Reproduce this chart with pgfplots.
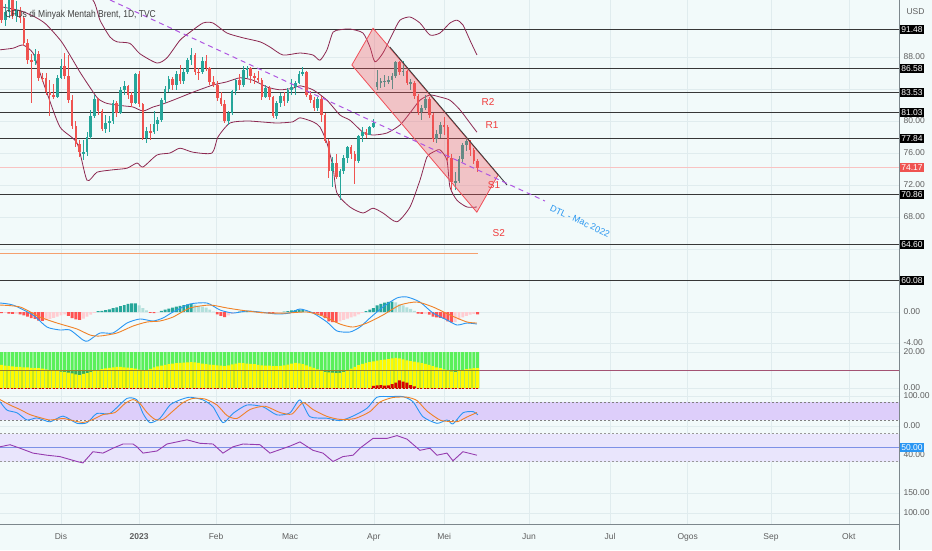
\documentclass[border=0pt]{standalone}
\usepackage{fontspec}
\setmainfont{Liberation Sans}
\usepackage{pgfplots}
\usepackage{pgfplotstable}
\pgfplotsset{compat=1.18}

\definecolor{bg}{RGB}{242,250,250}
\definecolor{gridc}{RGB}{224,236,238}
\definecolor{cup}{RGB}{38,166,154}
\definecolor{cdn}{RGB}{239,83,80}
\definecolor{bb}{RGB}{140,40,80}
\definecolor{lvl}{RGB}{55,55,55}
\definecolor{dtl}{RGB}{175,85,225}
\definecolor{dtlt}{RGB}{40,150,240}
\definecolor{chan}{RGB}{240,80,90}
\definecolor{lab}{RGB}{95,95,95}
\definecolor{macdb}{RGB}{41,150,243}
\definecolor{macdo}{RGB}{240,130,40}
\definecolor{hT}{RGB}{38,166,154}
\definecolor{hL}{RGB}{178,223,219}
\definecolor{hR}{RGB}{255,82,82}
\definecolor{hP}{RGB}{255,205,210}
\definecolor{grn}{RGB}{90,240,90}
\definecolor{dgrn}{RGB}{60,175,80}
\definecolor{yel}{RGB}{255,250,0}
\definecolor{olive}{RGB}{150,125,40}
\definecolor{stfill}{RGB}{221,206,250}
\definecolor{rsifill}{RGB}{233,229,252}
\definecolor{rsil}{RGB}{150,60,175}
\definecolor{midl}{RGB}{125,145,230}
\definecolor{axc}{RGB}{125,135,140}
\definecolor{sr}{RGB}{240,60,60}
\definecolor{orl}{RGB}{245,160,110}

\newcommand{\tvf}{\fontsize{8.5}{10}\selectfont}

\pgfplotsset{
  tvpane/.style={
    scale only axis, width=899pt, anchor=south west,
    xmin=-16.4, xmax=225.3,
    axis line style={draw=none},
    major tick length=0pt, tick style={draw=none},
    yticklabel pos=right,
    xtick={0,21,41.7,61.6,84.1,103,125.8,147.6,168.5,190.9,211.8},
    xticklabels={},
    xmajorgrids, ymajorgrids,
    grid style={gridc, line width=0.5pt},
    yticklabel style={font=\tvf, text=lab, anchor=west, xshift=1pt},
  },
  wick/.style={only marks, mark size=0pt, mark options={draw=none, fill=none},
    error bars/.cd, y dir=both, y explicit, error mark=none,
    error bar style={draw=#1, line width=0.8pt}},
  body/.style={only marks, mark size=0pt, mark options={draw=none, fill=none},
    error bars/.cd, y dir=both, y explicit, error mark=none,
    error bar style={draw=#1, line width=2.6pt}},
}

% i o h l c up hm hc yl rd   (up: 1 rising candle, 0 falling; hc: 1 teal, 2 light teal, 3 red, 4 pink)
\pgfplotstableread{
i o h l c up hm hc yl rd
-16 95.36 96.00 92.30 92.65 0 -0.15 3 12.8 0
-15 92.65 94.60 91.90 93.67 1 -0.10 4 12.5 0
-14 93.67 96.70 92.90 95.99 1 -0.20 3 12.3 0
-13 95.99 96.30 92.70 93.14 0 -0.25 3 12.0 0
-12 93.14 95.00 92.40 93.86 1 -0.20 4 11.8 0
-11 93.86 94.30 92.30 92.86 0 -0.30 3 11.7 0
-10 92.86 93.10 89.40 89.78 0 -0.45 3 11.5 0
-9 89.78 90.20 87.10 87.62 0 -0.60 3 11.4 0
-8 87.62 88.40 82.30 87.45 0 -0.80 3 11.2 0
-7 87.45 89.00 87.00 88.36 1 -0.90 3 11.1 0
-6 88.36 88.80 85.00 85.41 0 -1.10 3 11.0 0
-5 85.41 86.00 84.90 85.34 0 -1.15 3 10.8 0
-4 85.34 86.00 83.20 83.63 0 -1.05 4 10.4 0
-3 83.63 85.10 80.60 83.19 0 -0.90 4 10.0 0
-2 83.19 84.60 82.70 83.03 0 -0.75 4 9.7 0
-1 83.03 85.80 82.90 85.43 1 -0.60 4 9.4 0
0 85.43 87.80 85.20 86.88 1 -0.45 4 9.1 0
1 86.88 88.50 85.30 85.57 0 -0.30 4 8.9 0
2 85.57 88.30 82.20 82.68 0 -0.50 3 8.6 0
3 82.68 83.20 79.00 79.35 0 -0.80 3 8.1 0
4 79.35 80.00 76.80 77.17 0 -0.95 3 7.6 0
5 77.17 77.60 75.50 76.15 0 -1.00 3 7.2 0
6 75.90 77.60 75.10 76.10 1 -0.85 4 7.8 0
7 76.10 78.60 75.60 77.99 1 -0.60 4 8.3 0
8 77.99 81.40 77.80 80.68 1 -0.35 4 9.0 0
9 80.68 83.30 80.40 82.70 1 -0.10 4 9.6 0
10 82.70 82.90 80.80 81.21 0 0.10 1 10.0 0
11 81.21 81.50 78.80 79.04 0 0.15 1 10.5 0
12 79.04 80.80 78.50 79.80 1 0.25 1 10.9 0
13 79.80 80.60 78.60 79.99 1 0.35 1 11.2 0
14 79.99 82.60 79.60 82.20 1 0.50 1 11.5 0
15 82.20 82.50 80.50 80.98 0 0.60 1 11.7 0
16 80.98 84.20 80.90 83.92 1 0.75 1 11.7 0
17 83.92 85.00 83.30 84.33 1 0.90 1 11.5 0
18 84.33 84.50 82.70 83.26 0 1.05 1 11.3 0
19 83.26 83.60 81.70 82.26 0 1.10 1 11.1 0
20 82.26 86.00 82.10 85.91 1 1.10 1 10.8 0
21 85.91 86.30 81.80 82.10 0 0.85 2 10.2 0
22 82.10 82.30 77.60 77.84 0 0.50 2 9.4 0
23 77.84 79.30 77.20 78.69 1 0.20 2 9.8 0
24 78.69 79.60 77.60 78.57 0 -0.10 3 10.6 0
25 78.57 81.30 78.40 79.65 1 -0.15 3 11.4 0
26 79.65 80.50 78.80 80.10 1 -0.05 4 12.0 0
27 80.10 82.90 79.90 82.67 1 0.15 1 12.4 0
28 82.67 84.40 82.30 84.03 1 0.30 1 12.8 0
29 84.03 85.60 83.60 85.28 1 0.45 1 13.2 0
30 85.28 85.50 83.90 84.46 0 0.55 1 13.5 0
31 84.46 86.30 83.90 85.92 1 0.70 1 13.8 0
32 85.92 87.00 84.60 84.98 0 0.80 1 13.9 0
33 84.98 86.60 84.60 86.16 1 0.90 1 14.1 0
34 86.16 87.90 85.90 87.63 1 1.00 1 14.3 0
35 87.63 89.10 87.00 88.19 1 1.05 1 14.4 0
36 88.19 88.50 85.80 86.13 0 0.95 2 14.2 0
37 86.13 86.60 85.10 86.12 0 0.80 2 13.9 0
38 86.12 88.00 85.90 87.47 1 0.70 2 13.6 0
39 87.47 88.30 86.30 86.66 0 0.55 2 13.3 0
40 86.66 86.80 84.50 84.90 0 0.30 2 13.0 0
41 84.90 85.60 84.20 84.49 0 0.05 2 12.8 0
42 84.49 85.00 82.50 82.84 0 -0.30 3 12.6 0
43 82.84 83.60 81.90 82.17 0 -0.50 3 12.4 0
44 82.17 82.60 79.80 79.94 0 -0.65 3 12.2 0
45 79.94 81.30 79.50 80.99 1 -0.45 4 12.6 0
46 80.99 83.90 80.80 83.69 1 -0.25 4 13.1 0
47 83.69 85.30 83.20 85.09 1 -0.10 4 13.6 0
48 85.09 85.90 83.90 84.50 0 0.05 1 13.9 0
49 84.50 86.90 84.30 86.39 1 0.10 1 13.8 0
50 86.39 86.90 85.40 86.61 1 0.15 1 13.6 0
51 86.61 86.70 84.80 85.58 0 0.10 2 13.4 0
52 85.58 86.00 84.60 85.38 0 0.05 2 13.2 0
53 85.38 86.30 84.90 85.14 0 -0.05 3 12.8 0
54 85.14 85.40 82.60 83.00 0 -0.15 3 12.6 0
55 83.00 84.50 82.90 84.07 1 -0.10 4 12.5 0
56 84.07 84.40 82.60 83.05 0 -0.15 3 12.4 0
57 83.05 83.10 80.40 80.60 0 -0.20 3 12.2 0
58 80.60 82.50 80.30 82.21 1 -0.10 4 12.2 0
59 82.21 83.50 81.80 83.16 1 -0.05 4 12.3 0
60 83.16 83.60 81.90 82.45 0 0.05 1 12.6 0
61 82.45 84.10 82.20 83.89 1 0.10 1 13.0 0
62 83.89 85.20 83.30 84.31 1 0.20 1 13.5 0
63 84.31 85.00 83.30 84.75 1 0.25 1 13.9 0
64 84.75 86.30 84.60 85.83 1 0.30 1 13.7 0
65 85.83 86.70 85.60 86.18 1 0.30 1 13.2 0
66 86.18 86.30 83.00 83.29 0 0.15 2 12.6 0
67 83.29 83.70 82.20 82.66 0 0.05 2 11.9 0
68 82.66 83.00 81.20 81.59 0 -0.10 3 11.2 0
69 81.59 83.00 81.30 82.78 1 -0.20 3 10.4 0
70 82.78 83.10 79.90 80.77 0 -0.45 3 9.6 0
71 80.77 81.00 77.20 77.45 0 -0.80 3 9.0 0
72 77.45 77.70 72.90 73.69 0 -1.20 3 8.7 0
73 73.69 75.50 71.70 74.70 1 -1.30 3 8.5 0
74 74.70 75.90 72.70 72.97 0 -1.35 3 8.3 0
75 72.97 74.00 70.10 73.79 1 -1.20 4 8.4 0
76 73.79 75.70 73.40 75.32 1 -1.00 4 9.0 0
77 75.32 76.90 74.80 76.69 1 -0.85 4 9.8 0
78 76.69 77.00 75.20 75.91 0 -0.70 4 10.8 0
79 75.91 76.20 72.10 74.99 0 -0.55 4 11.8 0
80 74.99 78.30 74.80 78.12 1 -0.30 4 12.7 0
81 78.12 79.20 77.40 78.65 1 -0.10 4 13.4 0
82 78.65 79.00 77.90 78.28 0 0.10 1 14.0 0
83 78.28 79.40 78.20 79.27 1 0.30 1 14.4 0
84 79.27 80.30 79.10 79.77 1 0.50 1 14.8 1.2
85 84.20 86.40 83.90 84.93 1 0.85 1 15.2 1.4
86 84.93 85.40 84.10 84.94 1 1.05 1 15.5 1.6
87 84.94 85.80 84.30 84.99 1 1.20 1 15.8 1.3
88 84.99 85.60 84.60 85.12 1 1.30 1 16.1 1.5
89 85.12 86.00 84.00 85.61 1 1.35 1 16.4 2.2
90 85.61 87.50 85.40 87.33 1 1.25 2 16.7 3.0
91 87.33 87.50 85.80 86.09 0 1.00 2 16.4 4.3
92 86.09 87.50 85.60 86.31 1 0.85 2 15.9 3.6
93 86.31 86.40 84.50 84.76 0 0.60 2 15.3 3.0
94 84.76 85.30 83.90 84.77 1 0.40 2 14.9 1.6
95 84.77 85.00 82.70 83.12 0 0.15 2 14.6 0.9
96 83.12 83.40 80.80 81.10 0 -0.20 3 14.2 0
97 81.10 82.00 80.10 81.66 1 -0.25 3 13.8 0
98 81.66 83.20 81.40 82.73 1 -0.20 4 13.4 0
99 82.73 83.00 80.40 80.77 0 -0.35 3 12.8 0
100 80.77 81.00 77.40 77.69 0 -0.60 3 12.1 0
101 77.69 78.90 77.30 78.37 1 -0.70 3 11.5 0
102 78.37 79.90 77.90 79.54 1 -0.75 3 11.0 0
103 79.54 80.50 78.30 79.31 0 -0.90 3 10.3 0
104 79.31 79.50 75.00 75.32 0 -1.20 3 9.8 0
105 75.32 75.90 71.40 72.33 0 -1.35 3 9.2 0
106 72.33 73.60 71.40 72.50 1 -1.30 4 8.9 0
107 72.50 75.60 72.30 75.30 1 -1.00 4 9.4 0
108 75.30 77.20 74.90 77.01 1 -0.70 4 10.0 0
109 77.01 77.80 76.20 77.44 1 -0.50 4 10.5 0
110 77.44 77.60 75.60 76.41 0 -0.35 4 10.8 0
111 76.41 76.60 74.60 74.98 0 -0.25 4 11.0 0
112 74.98 75.30 73.60 74.17 0 -0.30 3 11.1 0
}\data

\pgfplotstableread{
px v
0 100.0
40 99.0
70 97.5
93 95.1
100 92.6
110 90.5
117 89.9
130 89.7
140 88.4
157 87.25
167 87.9
180 90.1
190 91.1
203 92.25
213 92.25
227 91.0
243 90.4
260 89.9
270 89.25
283 88.25
300 88.5
313 88.25
320 87.6
327 88.9
333 91.1
340 91.4
350 91.5
363 91.0
370 89.25
375 87.4
383 88.5
393 91.0
400 92.6
410 93.0
420 92.25
430 90.75
440 91.0
450 92.25
457 92.6
463 92.0
470 90.1
477 88.25
}\bbU

\pgfplotstableread{
px v
0 94.3
20 93.8
35 93.0
46 92.1
61 90.0
72 87.8
80 86.1
90 84.2
98 82.8
107 82.2
123 81.9
133 81.75
143 81.25
153 81.75
160 82.0
173 82.6
193 83.6
213 84.5
227 84.9
240 85.4
253 85.1
267 84.25
280 83.9
293 84.1
300 84.4
313 83.9
327 82.6
340 80.75
350 80.1
363 78.6
373 78.25
387 78.5
400 79.5
410 81.0
420 82.6
430 83.25
440 83.0
450 82.6
460 81.4
470 79.75
477 78.6
}\bbM

\pgfplotstableread{
px v
0 88.9
13 89.1
23 89.5
33 88.5
40 86.0
47 83.5
60 79.25
77 77.25
87 72.6
97 73.6
113 73.9
127 74.1
137 74.75
143 74.25
157 75.75
170 76.0
180 76.6
193 76.1
212 76.0
218 78.0
230 79.75
247 80.0
260 79.9
277 79.75
293 79.9
300 80.4
313 79.9
320 79.25
327 77.25
333 74.25
337 71.0
350 69.25
363 68.5
373 69.1
383 68.5
397 67.4
410 69.25
420 72.6
427 75.5
433 76.1
440 76.4
447 75.1
450 71.75
457 70.1
467 69.25
477 69.25
}\bbL

\pgfplotstableread{
px v
0 1.16
13 0.9
33 -0.39
47 -1.94
60 -2.32
70 -2.32
83 -3.61
88 -3.74
100 -2.71
113 -2.71
127 -1.42
140 -0.9
153 -1.16
163 -0.77
173 0.0
190 1.03
207 1.16
220 0.26
233 -0.13
247 0.13
260 0.0
277 -0.26
290 -0.13
300 0.39
313 -0.13
327 -1.29
337 -2.45
350 -2.58
360 -1.94
370 -0.77
383 0.65
397 1.81
407 1.94
420 1.29
433 -0.13
447 -1.03
457 -1.68
467 -1.42
477 -1.55
}\macdB

\pgfplotstableread{
px v
0 0.9
20 0.65
40 -0.65
57 -1.42
77 -2.19
90 -2.97
100 -3.1
117 -2.71
133 -1.81
147 -1.29
160 -1.16
173 -0.65
190 0.52
210 0.9
227 0.52
247 0.13
267 -0.13
287 -0.13
307 0.0
323 -0.52
340 -1.55
353 -1.94
367 -1.42
383 -0.39
400 0.9
417 1.29
433 0.65
450 -0.39
467 -1.29
477 -1.42
}\macdO

\pgfplotstableread{
px v
0 81
7 53
17 44
27 20
37 27
50 14
63 33
77 9
87 11
97 42
110 42
127 92
137 87
143 42
150 11
160 26
170 70
180 87
190 96
203 87
213 64
223 11
233 42
247 70
263 64
277 37
290 44
300 87
310 31
327 26
340 18
353 33
367 59
377 96
390 98
403 98
413 81
423 31
437 9
447 20
453 7
463 44
473 48
478 37
}\stK

\pgfplotstableread{
px v
0 88
10 70
20 55
30 38
40 28
50 20
63 25
73 18
83 12
93 22
103 38
115 45
125 75
133 88
140 75
147 45
155 22
163 22
173 50
183 78
193 92
205 90
217 70
227 35
237 25
250 55
265 66
280 45
292 40
303 78
313 55
327 32
340 22
355 25
370 48
380 80
393 95
407 96
417 85
427 50
440 20
450 15
458 15
467 30
477 45
}\stD

\pgfplotstableread{
px v
0 51
10 54
20 49
33 42
47 39
60 37
77 30
83 28
93 44
103 42
113 49
123 55
133 55
137 51
143 42
157 45
167 55
177 58
187 61
200 56
213 55
223 42
233 51
243 55
260 54
270 42
280 47
290 52
300 58
313 46
323 42
333 30
343 37
353 39
360 49
373 63
387 63
397 67
407 62
420 46
430 49
437 39
447 42
453 31
463 44
477 39
}\rsi

\begin{document}
\begin{tikzpicture}
\fill[bg] (0pt,0pt) rectangle (932pt,-550pt);

% ---------------- main price pane ----------------
\begin{axis}[tvpane, at={(0pt,-291pt)}, height=291pt, ymin=58.75, ymax=95.125,
  ytick={68,72,76,80,88},
  yticklabels={68.00,72.00,76.00,80.00,88.00},
  extra y ticks={91.48,86.58,83.53,81.03,77.84,70.86,64.60,60.08},
  extra y tick labels={91.48,86.58,83.53,81.03,77.84,70.86,64.60,60.08},
  extra y tick style={grid=none, yticklabel style={fill=black, text=white, inner sep=1.6pt, xshift=-0.5pt}},
]
\addplot[gridc, line width=0.5pt] coordinates {(-16.4,84) (225.3,84)};
\addplot[gridc, line width=0.5pt] coordinates {(-16.4,64) (225.3,64)};
\addplot[lvl, line width=1pt] coordinates {(-16.4,91.48) (225.3,91.48)};
\addplot[lvl, line width=1pt] coordinates {(-16.4,86.58) (225.3,86.58)};
\addplot[lvl, line width=1pt] coordinates {(-16.4,83.53) (225.3,83.53)};
\addplot[lvl, line width=1pt] coordinates {(-16.4,81.03) (225.3,81.03)};
\addplot[lvl, line width=1pt] coordinates {(-16.4,77.84) (225.3,77.84)};
\addplot[lvl, line width=1pt] coordinates {(-16.4,70.86) (225.3,70.86)};
\addplot[lvl, line width=1pt] coordinates {(-16.4,64.60) (225.3,64.60)};
\addplot[lvl, line width=1pt] coordinates {(-16.4,60.08) (225.3,60.08)};
\addplot[cdn!35, line width=0.6pt] coordinates {(-16.4,74.17) (225.3,74.17)};
\addplot[orl, line width=1pt] coordinates {(-16.4,63.4) (112.1,63.4)};
\addplot[bb, line width=0.8pt, smooth, tension=0.4] table[x expr={(\thisrow{px}-61)/3.72}, y=v] {\bbU};
\addplot[bb, line width=0.8pt, smooth, tension=0.4] table[x expr={(\thisrow{px}-61)/3.72}, y=v] {\bbM};
\addplot[bb, line width=0.8pt, smooth, tension=0.4] table[x expr={(\thisrow{px}-61)/3.72}, y=v] {\bbL};
% candles: wicks
\addplot[restrict expr to domain={\thisrow{up}}{0.5:1.5}, wick=cup]
  table[x=i, y expr={(\thisrow{h}+\thisrow{l})/2}, y error expr={(\thisrow{h}-\thisrow{l})/2}] {\data};
\addplot[restrict expr to domain={\thisrow{up}}{-0.5:0.5}, wick=cdn]
  table[x=i, y expr={(\thisrow{h}+\thisrow{l})/2}, y error expr={(\thisrow{h}-\thisrow{l})/2}] {\data};
% candles: bodies
\addplot[restrict expr to domain={\thisrow{up}}{0.5:1.5}, body=cup]
  table[x=i, y expr={(\thisrow{o}+\thisrow{c})/2}, y error expr={max(abs(\thisrow{o}-\thisrow{c})/2,0.06)}] {\data};
\addplot[restrict expr to domain={\thisrow{up}}{-0.5:0.5}, body=cdn]
  table[x=i, y expr={(\thisrow{o}+\thisrow{c})/2}, y error expr={max(abs(\thisrow{o}-\thisrow{c})/2,0.06)}] {\data};
% channel
\addplot[draw=chan, line width=0.8pt, fill=chan, fill opacity=0.32] coordinates {(83.9,91.6) (117.5,73.25) (111.8,68.6) (78.2,87.0)} -- cycle;
\addplot[black!75, line width=0.9pt] coordinates {(88.4,89.25) (119.9,72.0)};
% DTL
\addplot[dtl, line width=1pt, dash pattern=on 5pt off 4pt] coordinates {(13.2,95.125) (130.1,70.0)};
\node[rotate=-24.8, text=dtlt, font=\fontsize{9}{10}\selectfont] at (axis cs:139.5,67.5) {DTL - Mac 2022};
\node[text=sr, font=\fontsize{10}{11}\selectfont] at (axis cs:114.8,82.4) {R2};
\node[text=sr, font=\fontsize{10}{11}\selectfont] at (axis cs:115.9,79.5) {R1};
\node[text=sr, font=\fontsize{10}{11}\selectfont] at (axis cs:116.4,72.0) {S1};
\node[text=sr, font=\fontsize{10}{11}\selectfont] at (axis cs:117.7,66.0) {S2};
\coordinate (pl) at (axis cs:225.3,74.17);
\end{axis}

% ---------------- MACD pane ----------------
\begin{axis}[tvpane, at={(0pt,-348pt)}, height=57pt, ymin=-4.645, ymax=2.71,
  ytick={-4,0}, yticklabels={-4.00,0.00}]
\addplot[ybar, bar shift=0pt, bar width=0.78, fill=hT, draw=none, restrict expr to domain={\thisrow{hc}}{0.5:1.5}] table[x=i, y=hm] {\data};
\addplot[ybar, bar shift=0pt, bar width=0.78, fill=hL, draw=none, restrict expr to domain={\thisrow{hc}}{1.5:2.5}] table[x=i, y=hm] {\data};
\addplot[ybar, bar shift=0pt, bar width=0.78, fill=hR, draw=none, restrict expr to domain={\thisrow{hc}}{2.5:3.5}] table[x=i, y=hm] {\data};
\addplot[ybar, bar shift=0pt, bar width=0.78, fill=hP, draw=none, restrict expr to domain={\thisrow{hc}}{3.5:4.5}] table[x=i, y=hm] {\data};
\addplot[macdb, line width=0.9pt, smooth, tension=0.4] table[x expr={(\thisrow{px}-61)/3.72}, y=v] {\macdB};
\addplot[macdo, line width=0.9pt, smooth, tension=0.4] table[x expr={(\thisrow{px}-61)/3.72}, y=v] {\macdO};
\end{axis}

% ---------------- coloured bars pane ----------------
\begin{axis}[tvpane, at={(0pt,-392pt)}, height=44pt, ymin=-2.22, ymax=22.22,
  ytick={0,20}, yticklabels={0.00,20.00}]
\addplot[bb!80, line width=1pt] coordinates {(112.5,10) (225.3,10)};
\addplot[ybar, bar shift=0pt, bar width=0.8, fill=grn, draw=none] table[x=i, y expr=20] {\data};
\addplot[ybar, bar shift=0pt, bar width=0.8, fill=dgrn, draw=none] table[x=i, y expr=10] {\data};
\addplot[ybar, bar shift=0pt, bar width=0.8, fill=yel, draw=none] table[x=i, y=yl] {\data};
\addplot[ybar, bar shift=0pt, bar width=0.8, fill=red!85!black, draw=none] table[x=i, y=rd] {\data};
\addplot[olive, line width=1pt] coordinates {(-16.4,10) (112.5,10)};
\addplot[red!80!black, line width=0.6pt, dash pattern=on 2pt off 1.5pt] coordinates {(-16.4,0) (112.5,0)};
\end{axis}

% ---------------- stochastic pane ----------------
\begin{axis}[tvpane, at={(0pt,-430pt)}, height=38pt, ymin=-13.33, ymax=113.33,
  ytick={0,100}, yticklabels={0.00,100.00}]
\addplot[fill=stfill, draw=none] coordinates {(-16.4,20) (225.3,20) (225.3,80) (-16.4,80)} -- cycle;
\addplot[gray, line width=0.6pt, dash pattern=on 2pt off 2pt] coordinates {(-16.4,80) (225.3,80)};
\addplot[gray, line width=0.6pt, dash pattern=on 2pt off 2pt] coordinates {(-16.4,20) (225.3,20)};
\addplot[macdb, line width=0.9pt, smooth, tension=0.4] table[x expr={(\thisrow{px}-61)/3.72}, y=v] {\stK};
\addplot[macdo, line width=0.9pt, smooth, tension=0.4] table[x expr={(\thisrow{px}-61)/3.72}, y=v] {\stD};
\end{axis}

% ---------------- RSI pane ----------------
\begin{axis}[tvpane, at={(0pt,-468pt)}, height=38pt, ymin=20.71, ymax=75,
  ytick={40}, yticklabels={40.00}]
\addplot[fill=rsifill, draw=none] coordinates {(-16.4,30) (225.3,30) (225.3,70) (-16.4,70)} -- cycle;
\addplot[gray!80, line width=0.6pt, dash pattern=on 2pt off 2pt] coordinates {(-16.4,70) (225.3,70)};
\addplot[gray!80, line width=0.6pt, dash pattern=on 2pt off 2pt] coordinates {(-16.4,30) (225.3,30)};
\addplot[midl, line width=1.1pt] coordinates {(-16.4,50) (225.3,50)};
\addplot[rsil, line width=0.9pt] table[x expr={(\thisrow{px}-61)/3.72}, y=v] {\rsi};
\coordinate (r50) at (axis cs:225.3,50);
\end{axis}

% ---------------- empty bottom pane with time axis ----------------
\begin{axis}[tvpane, at={(0pt,-524pt)}, height=56pt, ymin=72.5, ymax=212.5,
  ytick={100,150}, yticklabels={100.00,150.00},
  xticklabels={Dis,\textbf{2023},Feb,Mac,Apr,Mei,Jun,Jul,Ogos,Sep,Okt},
  xticklabel style={font=\tvf, text=lab, yshift=-6pt}]
\addplot[draw=none] coordinates {(0,100)};
\end{axis}

\draw[axc, line width=0.8pt] (899pt,0pt) -- (899pt,-550pt);
\draw[axc, line width=0.8pt] (0pt,-524pt) -- (899pt,-524pt);
\node[fill=cdn, text=white, font=\tvf, inner sep=1.6pt, anchor=west] at ([xshift=0.5pt]pl) {74.17};
\node[fill=macdb, text=white, font=\tvf, inner sep=1.6pt, anchor=west] at ([xshift=0.5pt]r50) {50.00};
\node[font=\tvf, text=lab, anchor=west] at (903pt,-12pt) {USD};
\node[text=black!75, anchor=west, inner sep=0pt] at (5pt,-15pt) {\scalebox{0.85}[1]{\fontsize{10}{11}\selectfont CFDs di Minyak Mentah Brent, 1D, TVC}};

\pgfresetboundingbox
\path[use as bounding box] (0pt,0pt) rectangle (932pt,-550pt);
\end{tikzpicture}
\end{document}
